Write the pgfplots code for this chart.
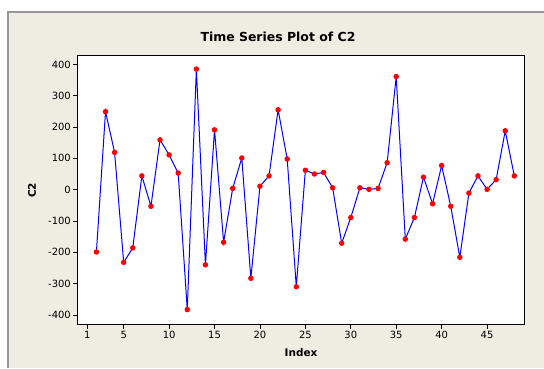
\documentclass[border=0pt]{standalone}
\usepackage{pgfplots}
\pgfplotsset{compat=1.18}
\usepackage{fontspec}
\setmainfont{DejaVu Sans}
\definecolor{bg}{RGB}{239,236,226}
\definecolor{frm}{RGB}{150,150,150}
\begin{document}
\begin{tikzpicture}[x=1bp,y=1bp]
\useasboundingbox (0,0) rectangle (544,368);
\fill[white] (0,0) rectangle (544,368);
\fill[bg] (8,0) rectangle (544,356);
\draw[frm, line width=1.5bp] (8,0) -- (8,356) -- (544,356);
\node[font=\bfseries\fontsize{12.5}{14}\selectfont, anchor=center] at (278,331) {Time Series Plot of C2};
\node[font=\bfseries\fontsize{10.5}{12}\selectfont, anchor=center] at (301,15) {Index};
\node[font=\bfseries\fontsize{10.5}{12}\selectfont, anchor=center, rotate=90] at (32,177.5) {C2};
\begin{axis}[
  at={(77.8bp,313bp)}, anchor=north west, scale only axis,
  width=446.5bp, height=269bp,
  xmin=-0.05, xmax=49.1, ymin=-429, ymax=430,
  axis background/.style={fill=white},
  axis line style={black, line width=0.8bp},
  xtick={1,5,10,15,20,25,30,35,40,45},
  ytick={-400,-300,-200,-100,0,100,200,300,400},
  tick align=outside, tick pos=left,
  major tick length=4.5bp,
  tick style={black, line width=0.6bp},
  ticklabel style={font=\fontsize{10}{12}\selectfont},
  xticklabel style={yshift=1bp},
  yticklabel style={xshift=1bp},
  /pgf/number format/assume math mode=true,
]
\addplot[blue, line width=1bp, mark=*, mark size=2.2bp,
  mark options={fill=red, draw=red}] coordinates {
(2,-199) (3,249) (4,119) (5,-232) (6,-186) (7,44) (8,-53) (9,159) (10,111)
(11,53) (12,-383) (13,385) (14,-240) (15,191) (16,-168) (17,4) (18,101)
(19,-283) (20,11) (21,44) (22,255) (23,98) (24,-310) (25,62) (26,50)
(27,55) (28,6) (29,-171) (30,-89) (31,6) (32,1) (33,4) (34,86) (35,361)
(36,-158) (37,-89) (38,40) (39,-45) (40,77) (41,-53) (42,-216) (43,-11)
(44,44) (45,1) (46,32) (47,188) (48,44)
};
\end{axis}
\end{tikzpicture}
\end{document}
